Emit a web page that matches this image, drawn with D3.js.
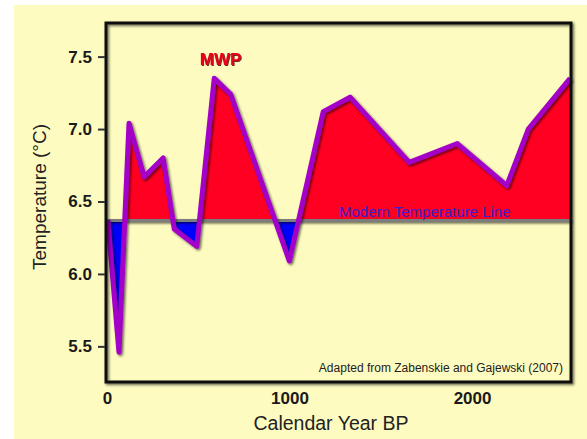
<!DOCTYPE html>
<html><head><meta charset="utf-8">
<script src="https://cdn.jsdelivr.net/npm/d3@7"></script>
<style>
html,body{margin:0;padding:0;background:#fff;}
svg{display:block;font-family:Arial,"Liberation Sans",Helvetica,sans-serif;}
</style></head>
<body>
<svg id="c" width="587" height="439"></svg>
<script>
// Data
const years = [5, 66, 121, 204, 308, 369, 492, 588, 678, 999, 1185, 1332, 1656, 1919, 2190, 2308, 2537];
const temps = [6.37, 5.46, 7.04, 6.67, 6.80, 6.31, 6.19, 7.35, 7.24, 6.09, 7.12, 7.22, 6.77, 6.90, 6.61, 7.00, 7.35];
const modernTemp = 6.369;
const yTicks = [5.5, 6.0, 6.5, 7.0, 7.5];
const xTicks = [0, 1000, 2000];
const xTitle = "Calendar Year BP";
const yTitle = "Temperature (°C)";
const peakLabel = "MWP";
const lineLabel = "Modern Temperature Line";
const sourceLabel = "Adapted from Zabenskie and Gajewski (2007)";

const svg = d3.select("#c");
const L = 106, R = 571, T = 23, B = 382;
const x = d3.scaleLinear().domain([-5, 2542]).range([L, R]);
const y = d3.scaleLinear().domain([5.254, 7.732]).range([B, T]);
const data = years.map((d, i) => ({yr: d, t: temps[i]}));

const defs = svg.append("defs");
const f = defs.append("filter").attr("id", "sh").attr("filterUnits", "userSpaceOnUse")
  .attr("x", 0).attr("y", 0).attr("width", 587).attr("height", 439);
f.append("feDropShadow").attr("dx", 1.5).attr("dy", 1.5).attr("stdDeviation", 1).attr("flood-color", "#000").attr("flood-opacity", 0.6);
const f2 = defs.append("filter").attr("id", "sh2").attr("filterUnits", "userSpaceOnUse")
  .attr("x", 0).attr("y", 0).attr("width", 587).attr("height", 439);
f2.append("feDropShadow").attr("dx", 1).attr("dy", 1).attr("stdDeviation", 0.6).attr("flood-color", "#400").attr("flood-opacity", 0.8);

defs.append("clipPath").attr("id", "above").append("rect")
  .attr("x", L).attr("y", T).attr("width", R - L).attr("height", y(modernTemp) - T);
defs.append("clipPath").attr("id", "below").append("rect")
  .attr("x", L).attr("y", y(modernTemp)).attr("width", R - L).attr("height", B - y(modernTemp));

// background
svg.append("rect").attr("x", 14).attr("y", 5).attr("width", 587 - 14).attr("height", 439 - 5).attr("fill", "#fdfbbf");

const area = d3.area().x(d => x(d.yr)).y0(y(modernTemp)).y1(d => y(d.t));
svg.append("path").datum(data).attr("d", area).attr("fill", "#ff0022").attr("clip-path", "url(#above)");
svg.append("path").datum(data).attr("d", area).attr("fill", "#0000ff").attr("clip-path", "url(#below)");

// modern temperature line
svg.append("line").attr("x1", L).attr("x2", R).attr("y1", y(modernTemp)).attr("y2", y(modernTemp))
  .attr("stroke", "#7d7d7d").attr("stroke-width", 3).attr("filter", "url(#sh)");

// data line
svg.append("path").datum(data).attr("d", d3.line().x(d => x(d.yr)).y(d => y(d.t)))
  .attr("fill", "none").attr("stroke", "#a300c8").attr("stroke-width", 5)
  .attr("stroke-linejoin", "round").attr("filter", "url(#sh)");

// frame
svg.append("rect").attr("x", L).attr("y", T).attr("width", R - L).attr("height", B - T)
  .attr("fill", "none").attr("stroke", "#111").attr("stroke-width", 3).attr("filter", "url(#sh)");

// y axis ticks
const yAxis = d3.axisLeft(y).tickValues(yTicks).tickFormat(d3.format(".1f")).tickSize(7).tickPadding(6);
const ya = svg.append("g").attr("transform", `translate(${L - 1},0)`).call(yAxis);
ya.select(".domain").remove();
ya.selectAll("line").attr("stroke", "#333").attr("stroke-width", 2);
ya.selectAll("text").attr("font-size", 17).attr("font-weight", "bold").attr("fill", "#1a1a1a")
  .attr("font-family", "Arial, 'Liberation Sans', sans-serif");

// x axis labels
const xAxis = d3.axisBottom(x).tickValues(xTicks).tickFormat(d3.format("d")).tickSize(0).tickPadding(8);
const xa = svg.append("g").attr("transform", `translate(0,${B + 2})`).call(xAxis);
xa.select(".domain").remove();
xa.selectAll("text").attr("font-size", 17).attr("font-weight", "bold").attr("fill", "#1a1a1a")
  .attr("font-family", "Arial, 'Liberation Sans', sans-serif");

// titles
svg.append("text").attr("x", 331).attr("y", 430).attr("text-anchor", "middle")
  .attr("font-size", 19.5).attr("fill", "#222").text(xTitle);
svg.append("text").attr("transform", "translate(46,197) rotate(-90)").attr("text-anchor", "middle")
  .attr("font-size", 19).attr("fill", "#222").text(yTitle);

// annotations
svg.append("text").attr("x", 220.5).attr("y", 65).attr("text-anchor", "middle")
  .attr("font-size", 17).attr("font-weight", "bold").attr("fill", "#e8001c").attr("filter", "url(#sh2)").text(peakLabel);
svg.append("text").attr("x", 339).attr("y", 216.5)
  .attr("font-size", 15).attr("fill", "#3a1ed0").text(lineLabel);
svg.append("text").attr("x", 563).attr("y", 371.5).attr("text-anchor", "end")
  .attr("font-size", 12).attr("fill", "#222").text(sourceLabel);
</script>
</body></html>
